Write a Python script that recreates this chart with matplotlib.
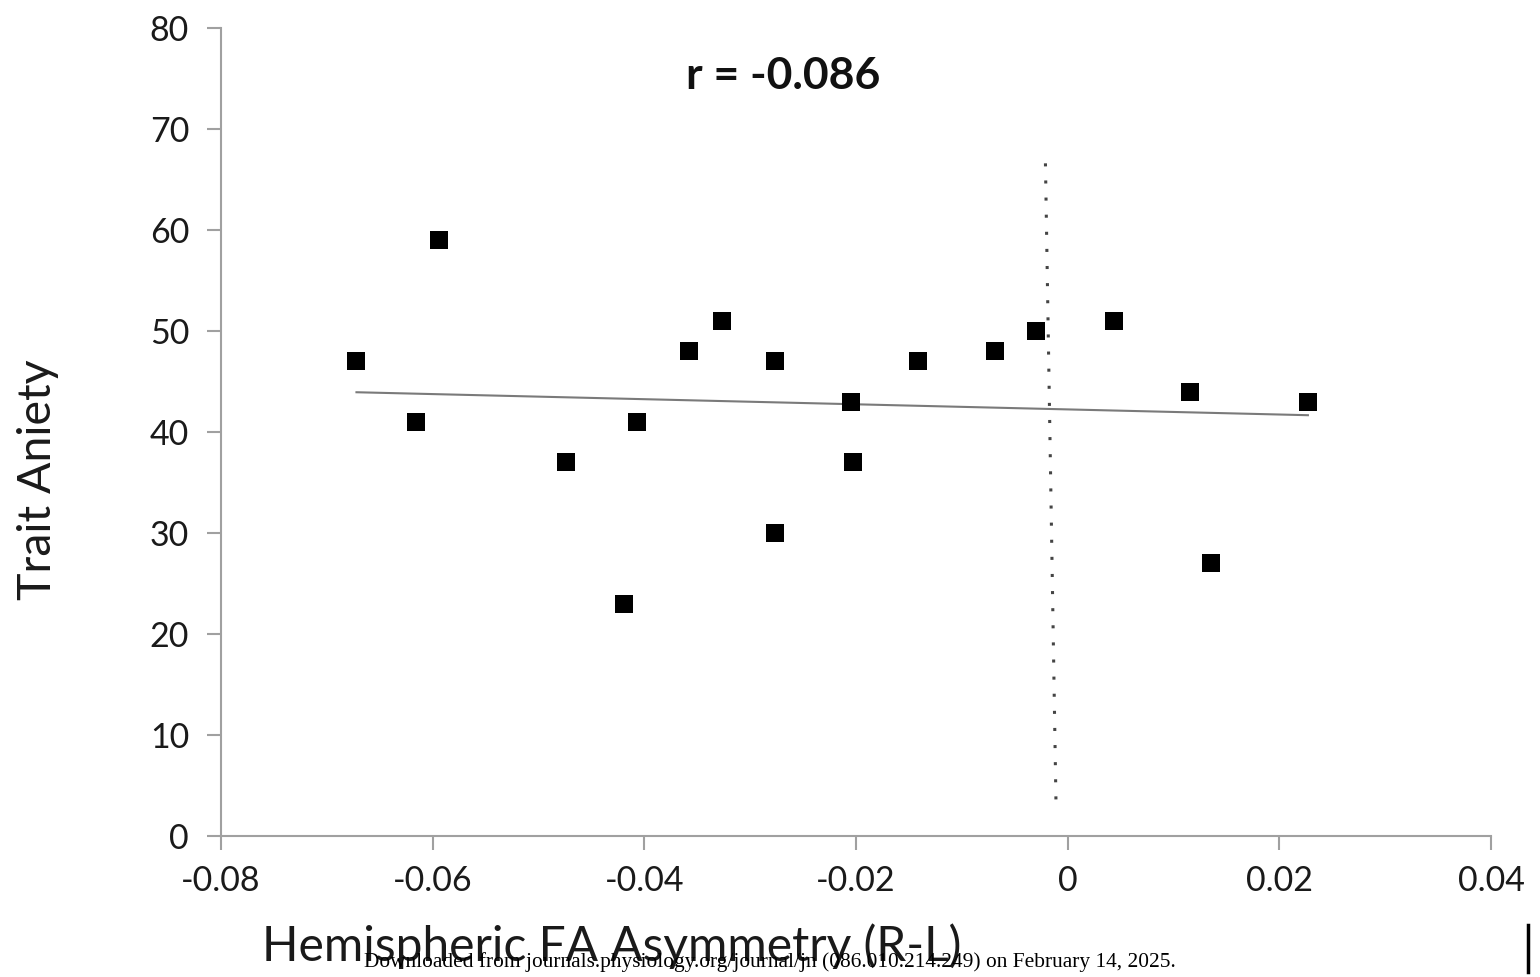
import numpy as np
import matplotlib
matplotlib.use("Agg")
import matplotlib.pyplot as plt

# Data
x_vals = [-0.0672, -0.0616, -0.0594, -0.0474, -0.0419, -0.0407, -0.0358, -0.0327,
          -0.0277, -0.0277, -0.0205, -0.0203, -0.0141, -0.0069, -0.0030, 0.0044,
          0.0116, 0.0135, 0.0227]
y_vals = [47, 41, 59, 37, 23, 41, 48, 51, 47, 30, 43, 37, 47, 48, 50, 51, 44, 27, 43]

divider_x = [-0.0021, -0.0011]
divider_y = [66.6, 3.1]

x_ticks = [-0.08, -0.06, -0.04, -0.02, 0, 0.02, 0.04]
x_tick_labels = ["-0.08", "-0.06", "-0.04", "-0.02", "0", "0.02", "0.04"]
y_ticks = [0, 10, 20, 30, 40, 50, 60, 70, 80]

title = "r = -0.086"
x_label = "Hemispheric FA Asymmetry (R-L)"
y_label = "Trait Aniety"
footer = "Downloaded from journals.physiology.org/journal/jn (086.010.214.249) on February 14, 2025."

plt.rcParams['font.family'] = ['Lato', 'DejaVu Sans']

fig = plt.figure(figsize=(15.4, 9.77), dpi=100)
ax = fig.add_axes([221/1540, 1-836/977, (1491-221)/1540, (836-28)/977])

x = np.array(x_vals)
y = np.array(y_vals)
ax.scatter(x, y, marker='s', s=150, color='black', zorder=3, linewidths=0)

coef = np.polyfit(x, y, 1)
xs = np.array([x.min(), x.max()])
ax.plot(xs, np.polyval(coef, xs), color='#7a7a7a', linewidth=1.5, zorder=2)

ax.plot(divider_x, divider_y, color='#444444', linewidth=2.2,
        linestyle=(0, (1, 4.6)), zorder=2)

ax.set_xlim(-0.08, 0.04)
ax.set_ylim(0, 80)
ax.set_xticks(x_ticks)
ax.set_xticklabels(x_tick_labels)
ax.set_yticks(y_ticks)

for s in ['top', 'right']:
    ax.spines[s].set_visible(False)
for s in ['left', 'bottom']:
    ax.spines[s].set_color('#a0a0a0')
    ax.spines[s].set_linewidth(1.5)
ax.tick_params(axis='both', direction='out', length=10, width=1.5, color='#a0a0a0',
               labelsize=24.5, labelcolor='#1a1a1a')
ax.tick_params(axis='x', pad=11)
ax.tick_params(axis='y', pad=13)

ax.text(0.443, 0.94, title, transform=ax.transAxes, ha='center', va='center',
        fontsize=32, fontweight='bold', color='#111111')

fig.text(612/1540, 1-946/977, x_label, ha='center', va='center', fontsize=34.5,
         color='#1a1a1a')
fig.text(38/1540, 1-480/977, y_label, ha='center', va='center', fontsize=33.5,
         rotation=90, color='#1a1a1a')
fig.text(770/1540, 1-962/977, footer, ha='center', va='center', fontsize=15.4,
         family='Liberation Serif', color='black')

fig.add_artist(plt.Line2D([1528/1540, 1528/1540], [1-925/977, 1-972/977],
                          transform=fig.transFigure, color='black', linewidth=2.5))

fig.savefig('out.png', dpi=100)
